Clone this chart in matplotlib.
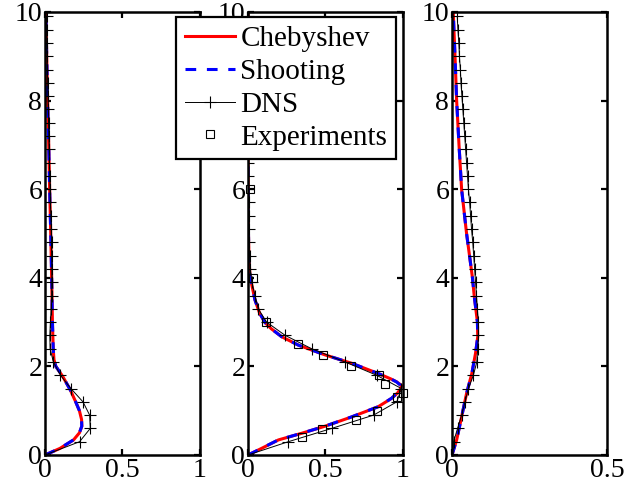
import matplotlib
matplotlib.use("Agg")
import matplotlib.pyplot as plt
import numpy as np

plt.rcParams['font.family'] = ['Liberation Serif', 'DejaVu Serif']

# ---- data ----
# panel 1
cheb1_y = [0, 0.15, 0.34, 0.5, 0.65, 0.8, 1.0, 1.2, 1.47, 1.77, 2.0, 2.15, 2.4, 3, 4, 5, 6, 7, 8, 9, 10]
cheb1_x = [0, 0.097, 0.184, 0.222, 0.238, 0.236, 0.222, 0.198, 0.163, 0.115, 0.07, 0.058, 0.053,
           0.048, 0.043, 0.037, 0.030, 0.024, 0.017, 0.011, 0.006]
shoot1_y = [0, 0.15, 0.34, 0.5, 0.65, 0.8, 1.0, 1.2, 1.47, 1.77, 2.0, 2.15, 2.4, 3, 4, 5, 6, 7, 8, 9, 10]
shoot1_x = [0, 0.096, 0.183, 0.222, 0.237, 0.236, 0.222, 0.198, 0.163, 0.115, 0.07, 0.058, 0.053,
            0.048, 0.043, 0.037, 0.030, 0.024, 0.017, 0.011, 0.006]

dns_y = [0, 0.3, 0.6, 0.9, 1.2, 1.5, 1.8, 2.1, 2.4, 2.7, 3.0, 3.3, 3.6, 3.9, 4.2, 4.5, 4.8,
         5.1, 5.4, 5.7, 6.0, 6.3, 6.6, 6.9, 7.2, 7.5, 7.8, 8.1, 8.4, 8.7, 9.0, 9.3, 9.6, 9.9]
dns1_x = [0, 0.223, 0.292, 0.288, 0.245, 0.167, 0.10, 0.054, 0.033, 0.031, 0.035, 0.040, 0.043,
          0.044, 0.044, 0.043, 0.042, 0.040, 0.038, 0.035, 0.033, 0.031, 0.029, 0.027, 0.025,
          0.023, 0.021, 0.019, 0.017, 0.016, 0.014, 0.012, 0.011, 0.010]

# panel 2
cheb2_y = [0, 0.15, 0.34, 0.49, 0.65, 0.86, 1.09, 1.28, 1.4, 1.5, 1.57, 1.65, 1.72, 1.84, 2.07,
           2.26, 2.48, 2.67, 2.85, 2.99, 3.2, 3.5, 4.03, 4.5, 5, 6, 7, 10]
cheb2_x = [0, 0.088, 0.196, 0.346, 0.497, 0.669, 0.84, 0.927, 0.965, 0.985, 0.99, 0.96, 0.92,
           0.84, 0.669, 0.497, 0.325, 0.217, 0.15, 0.11, 0.075, 0.045, 0.013, 0.006, 0.003,
           0.001, 0, 0]
shoot2_y = [0, 0.15, 0.34, 0.49, 0.65, 0.86, 1.09, 1.28, 1.4, 1.5, 1.57, 1.65, 1.72, 1.84, 2.07,
            2.26, 2.48, 2.67, 2.85, 2.99, 3.2, 3.5, 4.03, 4.5, 5, 6, 7, 10]
shoot2_x = [0, 0.087, 0.195, 0.345, 0.496, 0.668, 0.84, 0.926, 0.963, 0.983, 0.985, 0.958, 0.92,
            0.84, 0.669, 0.497, 0.325, 0.217, 0.15, 0.11, 0.075, 0.045, 0.013, 0.006, 0.003,
            0.001, 0, 0]
dns2_x = [0, 0.26, 0.54, 0.81, 0.96, 0.99, 0.83, 0.626, 0.41, 0.24, 0.12, 0.066, 0.045, 0.025,
          0.015, 0.010, 0.007, 0.005, 0.004, 0.004, 0.003, 0.003, 0.003, 0.003, 0.002, 0.002,
          0.002, 0.002, 0.002, 0.002, 0.002, 0.002, 0.002, 0.002]
exp2_x = [0.346, 0.475, 0.70, 0.83, 0.96, 1.0, 0.884, 0.845, 0.665, 0.486, 0.325, 0.114, 0.034, 0.013]
exp2_y = [0.41, 0.59, 0.80, 0.99, 1.32, 1.41, 1.61, 1.80, 2.02, 2.25, 2.50, 3.0, 4.0, 6.0]

# panel 3
cheb3_y = [0, 0.34, 0.86, 1.39, 1.84, 2.3, 2.67, 3.0, 3.57, 4.0, 5, 6, 7, 8, 9, 10]
cheb3_x = [0, 0.015, 0.031, 0.047, 0.064, 0.076, 0.083, 0.082, 0.072, 0.066, 0.047, 0.031,
           0.0226, 0.015, 0.0097, 0.004]
shoot3_y = [0, 0.34, 0.86, 1.39, 1.84, 2.3, 2.67, 3.0, 3.57, 4.0, 5, 6, 7, 8, 9, 10]
shoot3_x = [0, 0.015, 0.031, 0.047, 0.064, 0.076, 0.083, 0.082, 0.072, 0.066, 0.047, 0.031,
            0.0226, 0.015, 0.0097, 0.004]
dns3_x = [0, 0.005, 0.018, 0.031, 0.042, 0.053, 0.069, 0.080, 0.083, 0.085, 0.085, 0.082, 0.079,
          0.076, 0.073, 0.070, 0.067, 0.063, 0.060, 0.057, 0.053, 0.050, 0.047, 0.044, 0.041,
          0.038, 0.035, 0.032, 0.029, 0.027, 0.024, 0.022, 0.019, 0.017]

panels = [
    (cheb1_x, cheb1_y, shoot1_x, shoot1_y, dns1_x, None, None, 1.0, [0, 0.5, 1], ['0', '0.5', '1']),
    (cheb2_x, cheb2_y, shoot2_x, shoot2_y, dns2_x, exp2_x, exp2_y, 1.0, [0, 0.5, 1], ['0', '0.5', '1']),
    (cheb3_x, cheb3_y, shoot3_x, shoot3_y, dns3_x, None, None, 0.5, [0, 0.5], ['0', '0.5']),
]

fig = plt.figure(figsize=(6.24, 4.95), dpi=100)
lefts = [45, 248, 452]
FS = 20
handles = None
for i, (cx, cy, sx, sy, dx, ex, ey, xmax, xt, xtl) in enumerate(panels):
    ax = fig.add_axes([lefts[i] / 624, 40 / 495, 155 / 624, 443 / 495])
    h1, = ax.plot(cx, cy, color='red', lw=2.2, label='Chebyshev')
    h2, = ax.plot(sx, sy, color='blue', lw=2.2, ls=(0, (3.5, 3.5)), label='Shooting')
    h3, = ax.plot(dx, dns_y, color='black', lw=0.7, marker='+', ms=8, mew=0.8, label='DNS')
    h4, = ax.plot(ex if ex else [], ey if ey else [], ls='none', marker='s', ms=6, mfc='none',
                  mec='black', mew=0.8, label='Experiments', clip_on=False)
    if i == 1:
        handles = [h1, h2, h3, h4]
    ax.set_xlim(0, xmax)
    ax.set_ylim(0, 10)
    ax.set_xticks(xt)
    ax.set_xticklabels(xtl)
    ax.set_yticks([0, 2, 4, 6, 8, 10])
    ax.set_yticklabels(['0', '2', '4', '6', '8', '10'])
    ax.tick_params(direction='in', top=True, right=True, length=4, width=1.6,
                   labelsize=FS, pad=2)
    for s in ax.spines.values():
        s.set_linewidth(1.8)

leg = fig.legend(handles=handles, loc='upper right', bbox_to_anchor=(396 / 624, 1 - 17 / 495),
                 fontsize=21, frameon=True, fancybox=False, edgecolor='black',
                 framealpha=1, handlelength=1.7, handletextpad=0.2, labelspacing=0.22,
                 borderpad=0.3, borderaxespad=0)
leg.get_frame().set_linewidth(1.6)
leg.set_zorder(10)

fig.savefig('out.png', dpi=100)
